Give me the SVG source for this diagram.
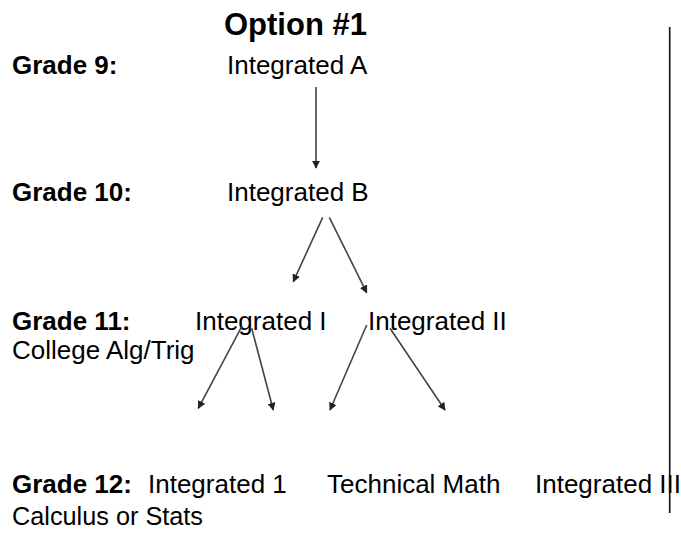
<svg xmlns="http://www.w3.org/2000/svg" width="681" height="533" viewBox="0 0 681 533">
<style>
text{font-family:"Liberation Sans",Arial,sans-serif;font-size:26px;fill:#000}
.b{font-weight:bold}
.t{font-weight:bold;font-size:31px}
.c{stroke:#444;stroke-width:1.6;fill:none;marker-end:url(#ah)}
</style>
<defs>
<marker id="ah" viewBox="0 0 10 10" refX="9" refY="5" markerWidth="5" markerHeight="5" orient="auto" markerUnits="strokeWidth">
<path d="M0,0 L10,5 L0,10 z" fill="#222"/>
</marker>
</defs>
<rect width="681" height="533" fill="#fff"/>
<text class="t" x="224" y="35">Option #1</text>
<g id="labels">
<text class="b" x="12" y="74">Grade 9:</text>
<text class="b" x="12" y="201">Grade 10:</text>
<text class="b" x="12" y="330">Grade 11:</text>
<text x="12" y="359">College Alg/Trig</text>
<text class="b" x="12" y="493">Grade 12:</text>
<text x="12" y="525" textLength="191" lengthAdjust="spacingAndGlyphs">Calculus or Stats</text>
</g>
<g id="intA"><text x="227" y="74">Integrated A</text></g>
<g id="intB"><text x="227" y="201">Integrated B</text></g>
<g id="intI"><text x="195" y="330">Integrated I</text></g>
<g id="intII"><text x="368" y="330">Integrated II</text></g>
<g id="int1"><text x="148" y="493">Integrated 1</text></g>
<g id="tech"><text x="327" y="493">Technical Math</text></g>
<g id="intIII"><text x="535" y="493">Integrated III</text></g>
<g id="connectors">
<line class="c" x1="316" y1="87" x2="316" y2="168"/>
<line class="c" x1="322.7" y1="217.3" x2="293.3" y2="281.7"/>
<line class="c" x1="329.3" y1="217.3" x2="366.7" y2="292.7"/>
<line class="c" x1="241.7" y1="326.7" x2="198.3" y2="408.3"/>
<line class="c" x1="251.7" y1="328.3" x2="273.3" y2="410"/>
<line class="c" x1="366.7" y1="325" x2="330" y2="410"/>
<line class="c" x1="390" y1="328.3" x2="445" y2="410"/>
<line x1="669.7" y1="27" x2="669.7" y2="513" stroke="#111" stroke-width="1.6"/>
</g>
</svg>
